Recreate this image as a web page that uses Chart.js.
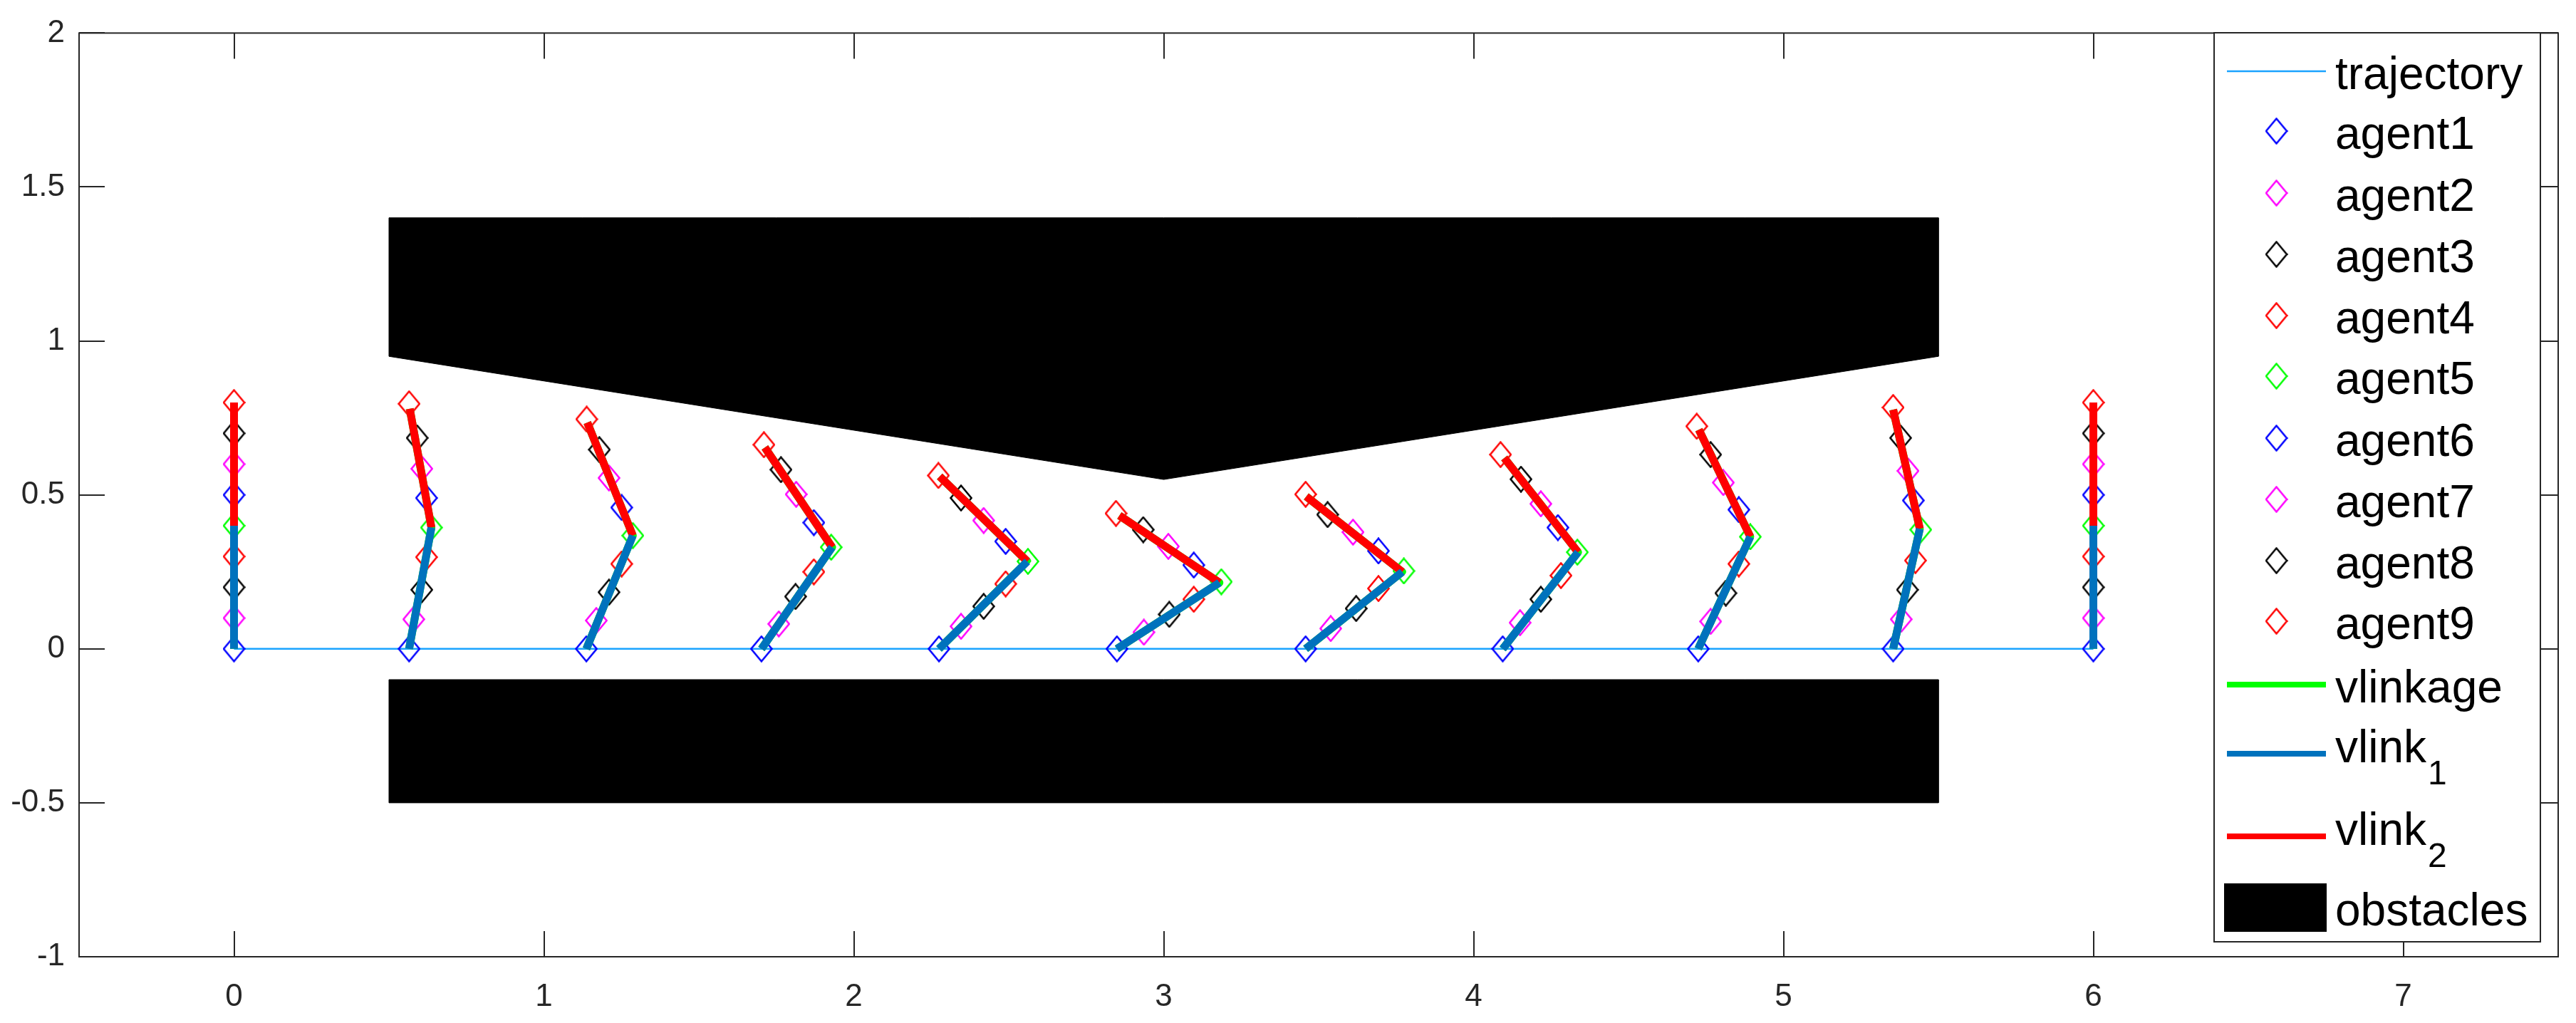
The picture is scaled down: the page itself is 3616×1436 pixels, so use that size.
<!DOCTYPE html>
<html>
<head>
<meta charset="utf-8">
<script src="https://cdn.jsdelivr.net/npm/chart.js@4.4.1/dist/chart.umd.min.js"></script>
<style>
  html, body { margin: 0; padding: 0; background: #fff; }
  #wrap { width: 3616px; height: 1436px; }
</style>
</head>
<body>
<div id="wrap"><canvas id="linkageChart" width="3616" height="1436"></canvas></div>
<script>
// agent positions [x, y], one per snapshot along the path
const agent1 = [[0, 0], [0.565, 0], [1.137, 0], [1.702, 0], [2.275, 0], [2.849, 0], [3.458, 0], [4.094, 0], [4.725, 0], [5.354, 0], [6, 0]];
const agent2 = [[0, 0.1], [0.58, 0.096], [1.169, 0.092], [1.758, 0.081], [2.346, 0.073], [2.936, 0.054], [3.539, 0.066], [4.15, 0.085], [4.765, 0.089], [5.38, 0.096], [6, 0.1]];
const agent3 = [[0, 0.2], [0.606, 0.192], [1.21, 0.184], [1.812, 0.17], [2.419, 0.138], [3.018, 0.112], [3.621, 0.131], [4.217, 0.161], [4.814, 0.181], [5.4, 0.192], [6, 0.2]];
const agent4 = [[0, 0.3], [0.621, 0.298], [1.251, 0.276], [1.871, 0.25], [2.49, 0.211], [3.097, 0.161], [3.693, 0.196], [4.282, 0.238], [4.856, 0.276], [5.426, 0.287], [6, 0.3]];
const agent5 = [[0, 0.4], [0.637, 0.394], [1.287, 0.368], [1.927, 0.33], [2.562, 0.284], [3.186, 0.218], [3.775, 0.253], [4.335, 0.314], [4.893, 0.364], [5.443, 0.387], [6, 0.4]];
const agent6 = [[0, 0.5], [0.621, 0.49], [1.251, 0.459], [1.871, 0.41], [2.49, 0.349], [3.097, 0.272], [3.693, 0.318], [4.272, 0.394], [4.856, 0.452], [5.419, 0.482], [6, 0.5]];
const agent7 = [[0, 0.6], [0.606, 0.585], [1.21, 0.555], [1.814, 0.502], [2.419, 0.417], [3.015, 0.333], [3.611, 0.379], [4.217, 0.471], [4.806, 0.54], [5.402, 0.578], [6, 0.6]];
const agent8 = [[0, 0.7], [0.591, 0.685], [1.179, 0.647], [1.765, 0.582], [2.346, 0.49], [2.934, 0.387], [3.529, 0.436], [4.153, 0.551], [4.765, 0.631], [5.378, 0.685], [6, 0.7]];
const agent9 = [[0, 0.8], [0.565, 0.796], [1.138, 0.746], [1.71, 0.663], [2.273, 0.563], [2.846, 0.44], [3.458, 0.502], [4.087, 0.631], [4.72, 0.723], [5.354, 0.784], [6, 0.8]];

// virtual linkage: base -> joint (vlink1), joint -> tip (vlink2)
const linkBase = [[0, 0], [0.565, 0], [1.137, 0], [1.702, 0], [2.275, 0], [2.849, 0], [3.458, 0], [4.094, 0], [4.725, 0], [5.354, 0], [6, 0]];
const linkJoint = [[0, 0.4], [0.637, 0.394], [1.287, 0.368], [1.93, 0.33], [2.56, 0.284], [3.18, 0.215], [3.77, 0.25], [4.337, 0.314], [4.893, 0.364], [5.44, 0.39], [6, 0.4]];
const linkTip = [[0, 0.8], [0.567, 0.78], [1.14, 0.735], [1.713, 0.654], [2.277, 0.56], [2.857, 0.433], [3.46, 0.495], [4.099, 0.62], [4.727, 0.712], [5.354, 0.777], [6, 0.8]];

const trajectoryX = [0, 6];
const trajectoryY = [0, 0];

const obstacleTopX = [0.5, 5.5, 5.5, 3, 0.5, 0.5];
const obstacleTopY = [1.4, 1.4, 0.95, 0.55, 0.95, 1.4];
const obstacleBottomX = [0.5, 5.5, 5.5, 0.5, 0.5];
const obstacleBottomY = [-0.1, -0.1, -0.5, -0.5, -0.1];

const xTicks = [0, 1, 2, 3, 4, 5, 6, 7];
const yTicks = [-1, -0.5, 0, 0.5, 1, 1.5, 2];

const agentColors = ['#0000ff', '#ff00ff', '#000000', '#ff0000', '#00ff00', '#0000ff', '#ff00ff', '#000000', '#ff0000'];
const agents = [agent1, agent2, agent3, agent4, agent5, agent6, agent7, agent8, agent9];

const AXIS_COLOR = '#262626';
const FONT = '"Liberation Sans", Arial, Helvetica, sans-serif';
const TICK_LEN = 36;

// open diamond marker, a bit taller than wide like the matlab one
function makeDiamond(color) {
    var c = document.createElement('canvas');
    c.width = 32;
    c.height = 38;
    var g = c.getContext('2d');
    g.strokeStyle = color;
    g.lineWidth = 2.5;
    g.beginPath();
    g.moveTo(16, 1.5);
    g.lineTo(30.5, 19);
    g.lineTo(16, 36.5);
    g.lineTo(1.5, 19);
    g.closePath();
    g.stroke();
    return c;
}

function toPoints(xs, ys) {
    return xs.map((x, i) => ({ x: x, y: ys[i] }));
}

// segments separated by gaps so each snapshot is its own stroke
function segments(...lists) {
    var out = [];
    lists[0].forEach((_, i) => {
        lists.forEach(l => out.push({ x: l[i][0], y: l[i][1] }));
        out.push({ x: lists[0][i][0], y: null });
    });
    return out;
}

const datasets = [];

datasets.push({
    type: 'line', label: 'trajectory', legendKind: 'line',
    data: toPoints(trajectoryX, trajectoryY),
    borderColor: '#1aa3ff', borderWidth: 2.5, pointRadius: 0, order: 9
});

agents.forEach((a, i) => {
    datasets.push({
        type: 'scatter', label: 'agent' + (i + 1), legendKind: 'marker',
        data: a.map(p => ({ x: p[0], y: p[1] })),
        pointStyle: makeDiamond(agentColors[i]),
        pointRadius: 16, pointHoverRadius: 16,
        borderColor: agentColors[i], order: 8
    });
});

const linkStyle = { borderWidth: 11, pointRadius: 0, spanGaps: false, tension: 0.0001, borderJoinStyle: 'round' };

datasets.push(Object.assign({
    type: 'line', label: 'vlinkage', legendKind: 'line',
    data: segments(linkBase, linkJoint, linkTip),
    borderColor: '#00ff00', order: 4
}, linkStyle));
datasets.push(Object.assign({
    type: 'line', label: 'vlink_1', legendKind: 'line',
    data: segments(linkBase, linkJoint),
    borderColor: '#0072bd', order: 2
}, linkStyle));
datasets.push(Object.assign({
    type: 'line', label: 'vlink_2', legendKind: 'line',
    data: segments(linkJoint, linkTip),
    borderColor: '#ff0000', order: 3
}, linkStyle));
datasets.push({
    type: 'line', label: 'obstacles', legendKind: 'patch',
    data: toPoints(obstacleTopX, obstacleTopY),
    borderColor: '#000', backgroundColor: '#000', borderWidth: 1,
    fill: 'shape', pointRadius: 0, order: 12
});
datasets.push({
    type: 'line', label: 'obstacles', legendKind: 'none',
    data: toPoints(obstacleBottomX, obstacleBottomY),
    borderColor: '#000', backgroundColor: '#000', borderWidth: 1,
    fill: 'shape', pointRadius: 0, order: 12
});

// matlab style box with inward ticks on all four sides
const boxFrame = {
    id: 'boxFrame',
    afterDatasetsDraw(chart) {
        const { ctx, chartArea: a, scales: { x, y } } = chart;
        ctx.save();
        ctx.strokeStyle = AXIS_COLOR;
        ctx.lineWidth = 2;
        ctx.beginPath();
        x.ticks.forEach(t => {
            var px = Math.round(x.getPixelForValue(t.value));
            ctx.moveTo(px, a.bottom); ctx.lineTo(px, a.bottom - TICK_LEN);
            ctx.moveTo(px, a.top); ctx.lineTo(px, a.top + TICK_LEN);
        });
        y.ticks.forEach(t => {
            var py = Math.round(y.getPixelForValue(t.value));
            ctx.moveTo(a.left, py); ctx.lineTo(a.left + TICK_LEN, py);
            ctx.moveTo(a.right, py); ctx.lineTo(a.right - TICK_LEN, py);
        });
        ctx.stroke();
        ctx.strokeRect(a.left, a.top, a.right - a.left, a.bottom - a.top);
        ctx.restore();
    }
};

// legend box drawn inside the axes, top right
const boxLegend = {
    id: 'boxLegend',
    afterDraw(chart) {
        const ctx = chart.ctx;
        const rows = [100, 184, 271, 357, 443, 528, 615, 701, 787, 872, 961, 1058, 1174, 1274];
        const left = 3108, top = 46, right = 3566, bottom = 1322;
        const lineX0 = 3126, lineX1 = 3265, textX = 3278;
        ctx.save();
        ctx.fillStyle = '#fff';
        ctx.fillRect(left, top, right - left, bottom - top);
        ctx.strokeStyle = AXIS_COLOR;
        ctx.lineWidth = 2;
        ctx.strokeRect(left, top, right - left, bottom - top);

        var items = chart.data.datasets.filter(d => d.legendKind !== 'none');
        items.forEach((d, i) => {
            var ry = rows[i];
            if (d.legendKind === 'line') {
                ctx.strokeStyle = d.borderColor;
                ctx.lineWidth = Math.min(d.borderWidth, 8);
                ctx.beginPath();
                ctx.moveTo(lineX0, ry);
                ctx.lineTo(lineX1, ry);
                ctx.stroke();
            } else if (d.legendKind === 'marker') {
                var img = d.pointStyle;
                ctx.drawImage(img, (lineX0 + lineX1) / 2 - img.width / 2, ry - img.height / 2);
            } else if (d.legendKind === 'patch') {
                ctx.fillStyle = d.backgroundColor;
                ctx.fillRect(lineX0 - 4, ry - 34, lineX1 - lineX0 + 5, 68);
            }
            ctx.fillStyle = '#000';
            ctx.textBaseline = 'alphabetic';
            ctx.textAlign = 'left';
            var parts = d.label.split('_');
            if (parts.length > 1) {
                ctx.font = '64px ' + FONT;
                var base = ry + 12;
                ctx.fillText(parts[0], textX, base);
                var w = ctx.measureText(parts[0]).width;
                ctx.font = '48px ' + FONT;
                ctx.fillText(parts[1], textX + w + 2, base + 31);
            } else {
                ctx.font = '64px ' + FONT;
                ctx.fillText(d.label, textX, ry + 25);
            }
        });
        ctx.restore();
    }
};

const tickFont = { family: FONT, size: 44 };

new Chart(document.getElementById('linkageChart'), {
    type: 'scatter',
    data: { datasets: datasets },
    options: {
        responsive: false,
        animation: false,
        devicePixelRatio: 1,
        layout: { padding: { top: 35, right: 25, left: 0, bottom: 0 } },
        plugins: {
            legend: { display: false },
            tooltip: { enabled: false },
            title: { display: false }
        },
        scales: {
            x: {
                type: 'linear', min: -0.5, max: 7.5,
                afterBuildTicks: s => { s.ticks = xTicks.map(v => ({ value: v })); },
                afterFit: s => { s.height = 93; },
                grid: { display: false, drawTicks: false },
                border: { display: false },
                ticks: { font: tickFont, color: AXIS_COLOR, padding: 30, maxRotation: 0, autoSkip: false,
                         callback: v => String(v) }
            },
            y: {
                type: 'linear', min: -1, max: 2,
                afterBuildTicks: s => { s.ticks = yTicks.map(v => ({ value: v })); },
                afterFit: s => { s.width = 111; },
                grid: { display: false, drawTicks: false },
                border: { display: false },
                ticks: { font: tickFont, color: AXIS_COLOR, padding: 20, autoSkip: false,
                         callback: v => String(v) }
            }
        }
    },
    plugins: [boxFrame, boxLegend]
});
</script>
</body>
</html>
